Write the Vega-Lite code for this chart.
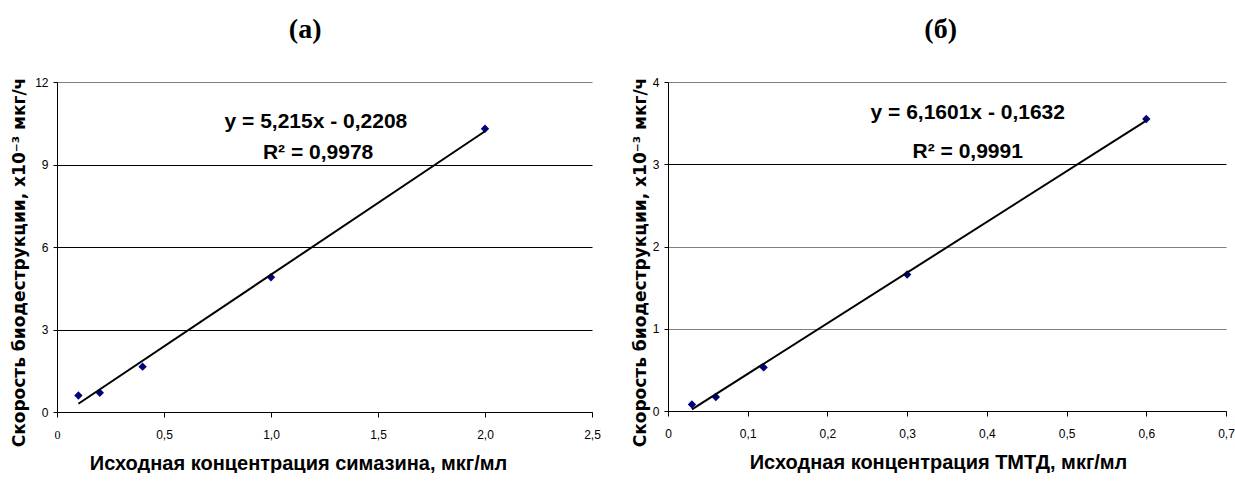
{
  "$schema": "https://vega.github.io/schema/vega-lite/v6.json",
  "background": "white",
  "padding": {"left": 10, "top": 16, "right": 0, "bottom": 0},
  "spacing": 30,
  "config": {
    "view": {"stroke": null},
    "font": "Liberation Sans",
    "title": {"font": "Liberation Serif", "fontSize": 28, "fontWeight": "bold", "color": "#000", "frame": "bounds", "anchor": "middle", "offset": 32},
    "axis": {"domainColor": "#000", "tickColor": "#000", "labelColor": "#000", "titleColor": "#000", "labelFontSize": 12}
  },
  "datasets": {
    "simPts": [
      {"x": 0.1, "y": 0.6}, {"x": 0.2, "y": 0.7}, {"x": 0.4, "y": 1.65}, {"x": 1.0, "y": 4.9}, {"x": 2.0, "y": 10.3}
    ],
    "simTrend": [{"x": 0.1, "y": 0.30}, {"x": 2.0, "y": 10.21}],
    "simLbl": [
      {"x": 1.21, "y": 10.55, "label": "y = 5,215x - 0,2208"},
      {"x": 1.22, "y": 9.42, "label": "R² = 0,9978"}
    ],
    "tmPts": [
      {"x": 0.03, "y": 0.08}, {"x": 0.06, "y": 0.17}, {"x": 0.12, "y": 0.53}, {"x": 0.3, "y": 1.66}, {"x": 0.6, "y": 3.55}
    ],
    "tmTrend": [{"x": 0.03, "y": 0.02}, {"x": 0.6, "y": 3.53}],
    "tmLbl": [
      {"x": 0.376, "y": 3.62, "label": "y = 6,1601x - 0,1632"},
      {"x": 0.376, "y": 3.15, "label": "R² = 0,9991"}
    ]
  },
  "hconcat": [
    {
      "width": 535,
      "height": 330,
      "title": {"text": "(а)", "dx": 0},
      "layer": [
        {
          "data": {"name": "simPts"},
          "mark": {"type": "point", "shape": "diamond", "filled": true, "color": "#000080", "opacity": 1, "size": 70},
          "encoding": {
            "x": {"field": "x", "type": "quantitative", "scale": {"domain": [0, 2.5], "nice": false},
              "axis": {"title": "Исходная концентрация симазина, мкг/мл", "values": [0, 0.5, 1, 1.5, 2, 2.5], "grid": false, "labelFlush": false,
                "labelExpr": "datum.value == 0 ? '0' : replace(format(datum.value, '.1f'), '.', ',')",
                "labelFont": {"condition": {"test": "datum.value == 0", "value": "Liberation Serif"}, "value": "Liberation Sans"},
                "labelFontSize": 12, "tickSize": 5, "labelPadding": 12,
                "titleFont": "Liberation Sans", "titleFontSize": 20, "titleFontWeight": "bold", "titlePadding": 13, "titleX": 241}},
            "y": {"field": "y", "type": "quantitative", "scale": {"domain": [0, 12], "nice": false},
              "axis": {"title": "Скорость биодеструкции, х10⁻³ мкг/ч", "values": [0, 3, 6, 9, 12], "grid": true, "format": "d",
                "gridColor": {"condition": {"test": "datum.value == 12", "value": "#808080"}, "value": "#000"},
                "tickSize": 4, "labelPadding": 5, "labelFontSize": 12,
                "titleFont": "DejaVu Sans", "titleFontSize": 17, "titleFontWeight": "bold", "titleBaseline": "middle",
                "titleX": -38, "titleY": 180}}
          }
        },
        {
          "data": {"name": "simTrend"},
          "mark": {"type": "line", "color": "#000", "strokeWidth": 2},
          "encoding": {"x": {"field": "x", "type": "quantitative"}, "y": {"field": "y", "type": "quantitative"}}
        },
        {
          "data": {"name": "simLbl"},
          "mark": {"type": "text", "font": "Liberation Sans", "fontSize": 21, "fontWeight": "bold", "color": "#000", "align": "center", "baseline": "middle"},
          "encoding": {"x": {"field": "x", "type": "quantitative"}, "y": {"field": "y", "type": "quantitative"}, "text": {"field": "label"}}
        }
      ]
    },
    {
      "width": 558,
      "height": 329,
      "title": {"text": "(б)", "dx": 8},
      "layer": [
        {
          "data": {"name": "tmPts"},
          "mark": {"type": "point", "shape": "diamond", "filled": true, "color": "#000080", "opacity": 1, "size": 70},
          "encoding": {
            "x": {"field": "x", "type": "quantitative", "scale": {"domain": [0, 0.7], "nice": false},
              "axis": {"title": "Исходная концентрация ТМТД, мкг/мл", "values": [0, 0.1, 0.2, 0.3, 0.4, 0.5, 0.6, 0.7], "grid": false, "labelFlush": false,
                "labelExpr": "datum.value == 0 ? '0' : replace(format(datum.value, '.1f'), '.', ',')",
                "labelFont": "Liberation Sans",
                "labelFontSize": 12, "tickSize": 5, "labelPadding": 12,
                "titleFont": "Liberation Sans", "titleFontSize": 20, "titleFontWeight": "bold", "titlePadding": 13, "titleX": 270}},
            "y": {"field": "y", "type": "quantitative", "scale": {"domain": [0, 4], "nice": false},
              "axis": {"title": "Скорость биодеструкции, х10⁻³ мкг/ч", "values": [0, 1, 2, 3, 4], "grid": true, "format": "d",
                "gridColor": {"condition": {"test": "datum.value == 3", "value": "#000"}, "value": "#808080"},
                "tickSize": 4, "labelPadding": 5, "labelFontSize": 12,
                "titleFont": "DejaVu Sans", "titleFontSize": 17, "titleFontWeight": "bold", "titleBaseline": "middle",
                "titleX": -28, "titleY": 180}}
          }
        },
        {
          "data": {"name": "tmTrend"},
          "mark": {"type": "line", "color": "#000", "strokeWidth": 2},
          "encoding": {"x": {"field": "x", "type": "quantitative"}, "y": {"field": "y", "type": "quantitative"}}
        },
        {
          "data": {"name": "tmLbl"},
          "mark": {"type": "text", "font": "Liberation Sans", "fontSize": 21, "fontWeight": "bold", "color": "#000", "align": "center", "baseline": "middle"},
          "encoding": {"x": {"field": "x", "type": "quantitative"}, "y": {"field": "y", "type": "quantitative"}, "text": {"field": "label"}}
        }
      ]
    }
  ]
}
